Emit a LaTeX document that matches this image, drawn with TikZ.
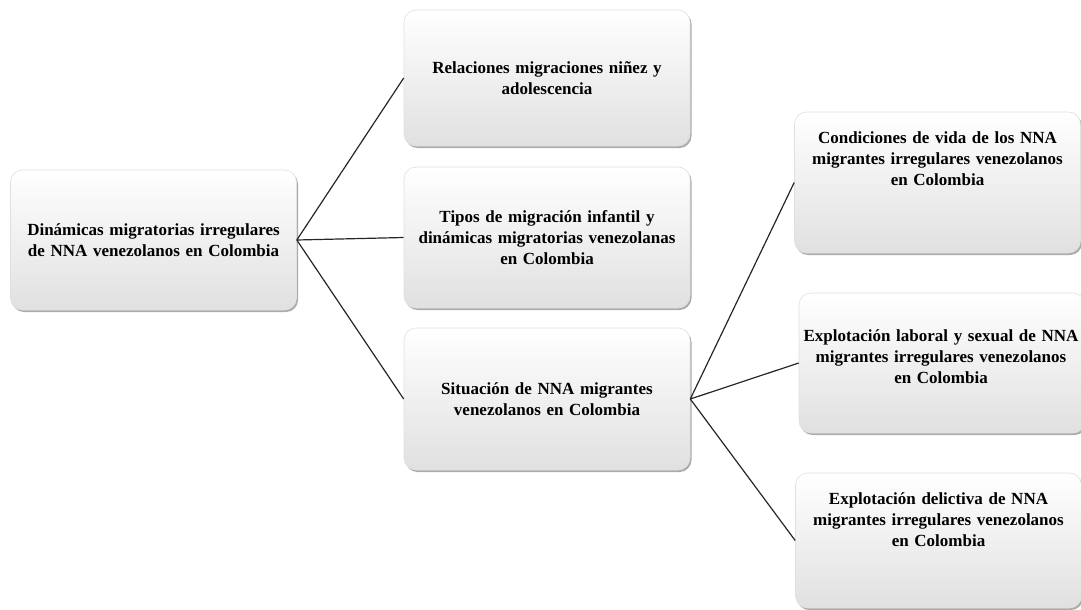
\documentclass[tikz,border=0pt]{standalone}
\usepackage{fontspec}
\setmainfont{Liberation Serif}
\usetikzlibrary{positioning,shadows}

\begin{document}
\begin{tikzpicture}[
    x=1pt, y=-1pt,
    caja/.style={rectangle, rounded corners=12pt, draw=black!12, line width=0.6pt,
        top color=white, bottom color=black!12,
        drop shadow={shadow xshift=1.5pt, shadow yshift=-2pt, fill=black!55, opacity=.6},
        minimum width=280pt, minimum height=140pt, inner sep=0pt,
        text width=286pt, align=center,
        font=\fontsize{17}{21}\selectfont\bfseries},
    texto/.style={inner sep=0pt, text width=286pt, align=center,
        font=\fontsize{17}{21}\selectfont\bfseries},
    rama/.style={draw=black!85, line width=1.2pt}
]
\useasboundingbox (0,0) rectangle (1081,610);

\node[caja, minimum width=283pt] (raiz) at (153.5,240)
    {Dinámicas migratorias irregulares\\de NNA venezolanos en Colombia};
\node[caja, minimum height=136pt] (rel) at (547,78)
    {Relaciones migraciones niñez y\\adolescencia};
\node[caja, minimum height=141pt] (tipos) at (547,237.5)
    {Tipos de migración infantil y\\dinámicas migratorias venezolanas\\en Colombia};
\node[caja, minimum height=142pt] (sit) at (547,399)
    {Situación de NNA migrantes\\venezolanos en Colombia};
\node[caja, minimum width=279pt, minimum height=141pt,
    label={[texto, yshift=24pt]center:{Condiciones de vida de los NNA\\migrantes irregulares venezolanos\\en Colombia}}]
    (cond) at (937.5,182.5) {};
\node[caja, minimum width=278pt,
    label={[texto, yshift=6pt, xshift=-1pt]center:{Explotación laboral y sexual de NNA\\migrantes irregulares venezolanos\\en Colombia}}]
    (expl) at (942,363) {};
\node[caja, minimum width=279pt, minimum height=135pt,
    label={[texto, yshift=21pt]center:{Explotación delictiva de NNA\\migrantes irregulares venezolanos\\en Colombia}}]
    (deli) at (938.5,540.5) {};

\path[rama]
(raiz.east) edge (rel.west)
(raiz.east) edge (tipos.west)
(raiz.east) edge (sit.west)
(sit.east) edge (cond.west)
(sit.east) edge (expl.west)
(sit.east) edge (deli.west);

\end{tikzpicture}
\end{document}
